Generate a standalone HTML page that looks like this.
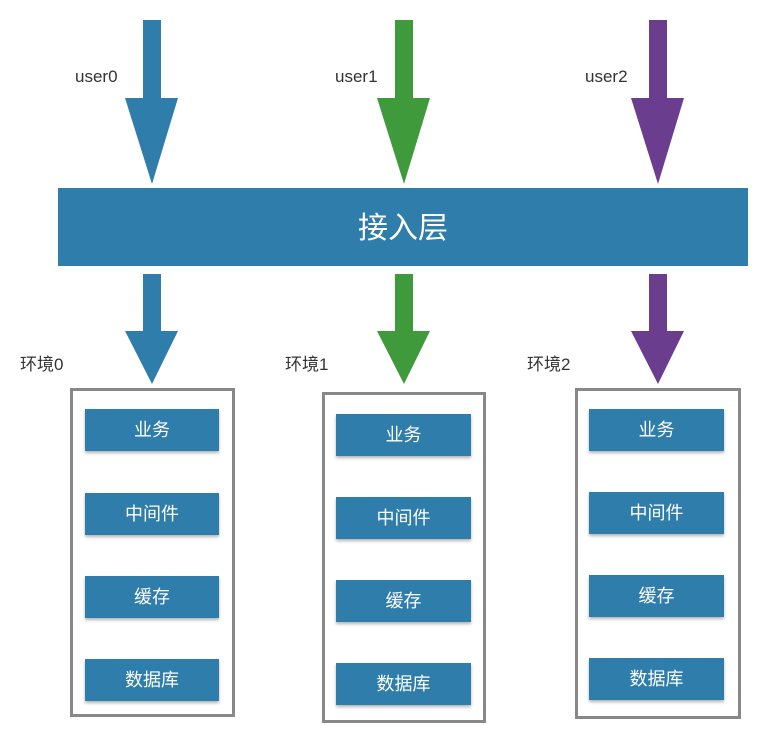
<!DOCTYPE html>
<html><head><meta charset="utf-8"><style>
body{margin:0;width:770px;height:733px;background:#fff;position:relative;overflow:hidden;font-family:"Liberation Sans","Noto Sans CJK SC",sans-serif;}
.t{position:absolute;font-size:17px;color:#333;}
.env{position:absolute;border:3px solid #888;box-sizing:border-box;}
.b{position:absolute;background:#2f7dab;color:#fff;font-size:18px;text-align:center;line-height:42px;height:42px;box-shadow:0 2px 3px rgba(0,0,0,.3);}
</style></head><body>
<svg width="770" height="733" style="position:absolute;left:0;top:0">
<g fill="#2f7dab">
<polygon points="143,20 161,20 161,98 178,98 152,184 125,98 143,98"/>
<polygon points="143,274 161,274 161,331 178,331 152,384 125,331 143,331"/>
</g>
<g fill="#3f9a3c">
<polygon points="395,20 413,20 413,98 430,98 404,184 377,98 395,98"/>
<polygon points="395,274 413,274 413,331 430,331 404,384 377,331 395,331"/>
</g>
<g fill="#6b3d8f">
<polygon points="649,20 667,20 667,98 684,98 658,184 631,98 649,98"/>
<polygon points="649,274 667,274 667,331 684,331 658,384 631,331 649,331"/>
</g>
<rect x="58" y="188" width="690" height="78" fill="#2f7dab"/>
<text x="403" y="238" fill="#fff" font-size="30" text-anchor="middle" font-family="Liberation Sans,Noto Sans CJK SC,sans-serif">接入层</text>
</svg>
<div class="t" style="left:75px;top:67px">user0</div>
<div class="t" style="left:335px;top:67px">user1</div>
<div class="t" style="left:585px;top:67px">user2</div>
<div class="t" style="left:20px;top:350px">环境0</div>
<div class="t" style="left:285px;top:350px">环境1</div>
<div class="t" style="left:527px;top:350px">环境2</div>
<div class="env" style="left:70px;top:388px;width:165px;height:329px"></div>
<div class="env" style="left:322px;top:392px;width:164px;height:331px"></div>
<div class="env" style="left:575px;top:388px;width:166px;height:331px"></div>
<div class="b" style="left:85px;top:409px;width:134px">业务</div>
<div class="b" style="left:85px;top:493px;width:134px">中间件</div>
<div class="b" style="left:85px;top:576px;width:134px">缓存</div>
<div class="b" style="left:85px;top:659px;width:134px">数据库</div>
<div class="b" style="left:336px;top:414px;width:135px">业务</div>
<div class="b" style="left:336px;top:497px;width:135px">中间件</div>
<div class="b" style="left:336px;top:580px;width:135px">缓存</div>
<div class="b" style="left:336px;top:663px;width:135px">数据库</div>
<div class="b" style="left:589px;top:409px;width:135px">业务</div>
<div class="b" style="left:589px;top:492px;width:135px">中间件</div>
<div class="b" style="left:589px;top:575px;width:135px">缓存</div>
<div class="b" style="left:589px;top:658px;width:135px">数据库</div>
</body></html>
